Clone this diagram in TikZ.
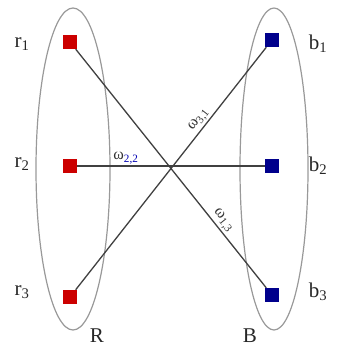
\documentclass[tikz,border=0pt]{standalone}
\usepackage{fontspec}
\setmainfont{Liberation Serif}
\begin{document}
\begin{tikzpicture}[x=1pt,y=-1pt,
  redsq/.style={rectangle, minimum size=14pt, inner sep=0pt, fill=red!80!black},
  bluesq/.style={rectangle, minimum size=14pt, inner sep=0pt, fill=blue!55!black},
  lbl/.style={font=\fontsize{21}{23}\selectfont, text=black!85},
  wlbl/.style={font=\fontsize{16}{18}\selectfont, text=black!80, inner sep=1.5pt},
  edgeline/.style={draw=black!75, line width=1.3pt},
  grp/.style={draw=black!40, line width=1.2pt}]
\useasboundingbox (0,0) rectangle (337,354);
% groups
\draw[grp] (73,169) ellipse [x radius=37, y radius=161];
\draw[grp] (274,169) ellipse [x radius=34, y radius=161];
% vertices
\node[redsq] (r1) at (70,42) {};
\node[redsq] (r2) at (70,166) {};
\node[redsq] (r3) at (70,297) {};
\node[bluesq] (b1) at (272,40) {};
\node[bluesq] (b2) at (272,166) {};
\node[bluesq] (b3) at (272,295) {};
% labels
\node[lbl] (lr1) at (22,44) {r\textsubscript{1}};
\node[lbl] (lr2) at (22,164) {r\textsubscript{2}};
\node[lbl] (lr3) at (22,292) {r\textsubscript{3}};
\node[lbl] (lb1) at (318,44) {b\textsubscript{1}};
\node[lbl] (lb2) at (318,166) {b\textsubscript{2}};
\node[lbl] (lb3) at (318,292) {b\textsubscript{3}};
\node[lbl] (lR) at (97,336) {R};
\node[lbl] (lB) at (250,336) {B};
% edges
\draw[edgeline] (r1) -- node[wlbl, pos=0.74, sloped, above] {ω\textsubscript{1,3}} (b3);
\draw[edgeline] (r2) -- node[wlbl, pos=0.26, above] {ω\textsubscript{\color{blue!70!black}2,2}} (b2);
\draw[edgeline] (r3) -- node[wlbl, pos=0.68, sloped, above] {ω\textsubscript{3,1}} (b1);
\end{tikzpicture}
\end{document}
